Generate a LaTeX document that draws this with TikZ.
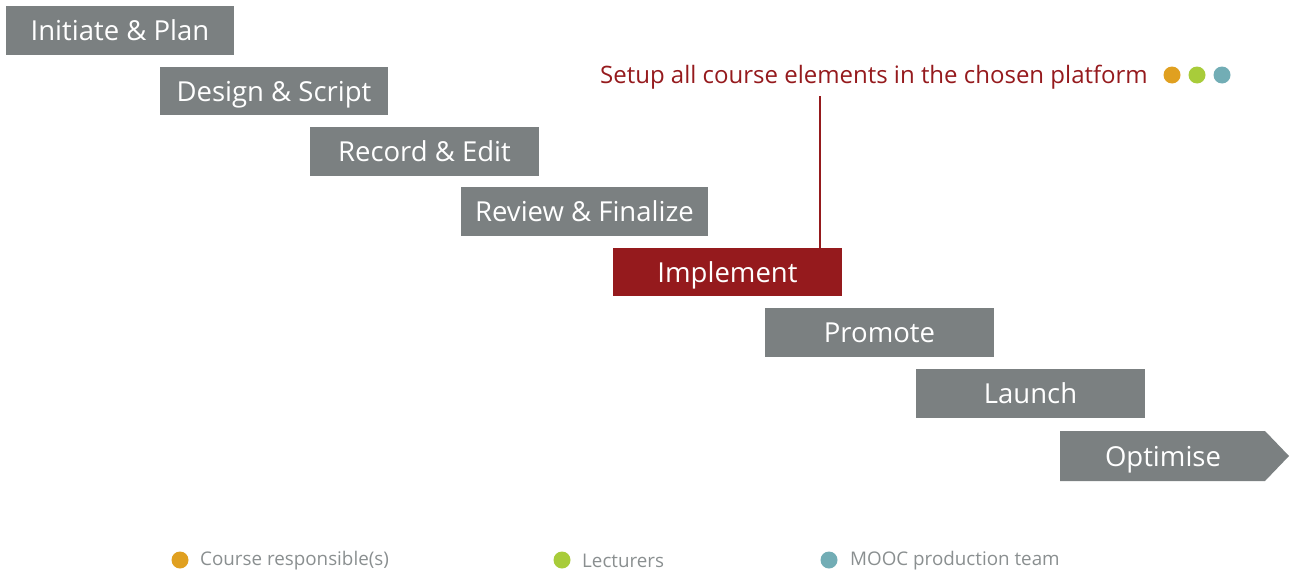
\documentclass[tikz,border=0pt]{standalone}
\usepackage{fontspec}
\setmainfont{Open Sans}
\definecolor{boxgray}{HTML}{7B8081}
\definecolor{boxred}{HTML}{951A1D}
\definecolor{dotorange}{HTML}{E0A020}
\definecolor{dotgreen}{HTML}{A8CC3A}
\definecolor{dotteal}{HTML}{72ADB5}
\definecolor{legendgray}{HTML}{8A8F90}
\begin{document}
\begin{tikzpicture}[x=1pt,y=-1pt,
  stepbox/.style={fill=boxgray, text=white, minimum width=229pt, minimum height=49pt, inner sep=0pt, text depth=0pt, font=\fontsize{27.5}{30}\selectfont},
  redbox/.style={stepbox, fill=boxred},
  dot/.style={circle, inner sep=0pt, minimum size=17pt},
  legend/.style={text=legendgray, anchor=west, inner sep=0pt, font=\fontsize{18.8}{22}\selectfont}]
\useasboundingbox (0,0) rectangle (1291,573);
\node[stepbox, minimum width=228pt] (s1) at (120,30.5) {Initiate \& Plan};
\node[stepbox, minimum width=228pt, minimum height=48pt] (s2) at (274,91) {Design \& Script};
\node[stepbox] (s3) at (424.5,151.5) {Record \& Edit};
\node[stepbox, minimum width=247pt] (s4) at (584.5,211.5) {Review \& Finalize};
\node[redbox, minimum height=48pt] (s5) at (727.5,272) {Implement};
\node[stepbox] (s6) at (879.5,332.5) {Promote};
\node[stepbox] (s7) at (1030.5,393.5) {Launch};
\fill[boxgray] (1060,431) -- (1265,431) -- (1289,456) -- (1265,481) -- (1060,481) -- cycle;
\node[text=white, inner sep=0pt, text depth=0pt, font=\fontsize{27.5}{30}\selectfont] (s8) at (1163,456) {Optimise};
\node[text=boxred, inner sep=0pt, font=\fontsize{24}{28}\selectfont] (setup) at (874,77) {Setup all course elements in the chosen platform};
\coordinate (lt) at (820,96);
\draw[boxred, line width=1.2pt] (lt) -- (lt |- s5.north);
\node[dot, fill=dotorange] (d1) at (1172,75) {};
\node[dot, fill=dotgreen] (d2) at (1197,75) {};
\node[dot, fill=dotteal] (d3) at (1222,75) {};
\node[dot, fill=dotorange] (l1) at (180,560) {};
\node[legend] (t1) at (200,561) {Course responsible(s)};
\node[dot, fill=dotgreen] (l2) at (562,560) {};
\node[legend] (t2) at (582,561) {Lecturers};
\node[dot, fill=dotteal] (l3) at (829,560) {};
\node[legend] (t3) at (850,561) {MOOC production team};
\end{tikzpicture}
\end{document}
